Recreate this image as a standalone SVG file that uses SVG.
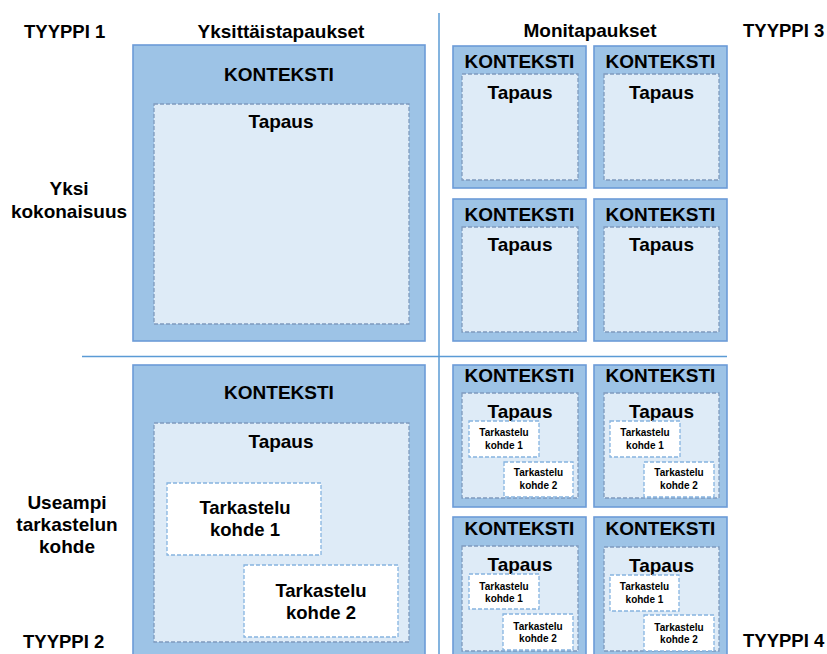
<svg xmlns="http://www.w3.org/2000/svg" width="827" height="654" viewBox="0 0 827 654">
<style>
text{font-family:"Liberation Sans",Arial,sans-serif;font-weight:bold;fill:#000;text-anchor:middle}
.hd{font-size:19px}
.ty{font-size:18.5px;text-anchor:start}
.kk{font-size:19px}
.tp{font-size:19px}
.tb{font-size:18.5px}
.ts{font-size:10px}
.ctx{fill:#9DC3E6;stroke:#6C9BD8;stroke-width:1.6}
.case{fill:#DEEBF7;stroke:#7F9BBE;stroke-width:1.3;stroke-dasharray:4 2}
.obj{fill:#FFFFFF;stroke:#86B4E0;stroke-width:1.3;stroke-dasharray:4 2}
.div{stroke:#5B9BD5;stroke-width:1.5;fill:none}
</style>
<g id="dividers">
<line class="div" x1="439" y1="13" x2="439" y2="654"/>
<line class="div" x1="82" y1="356.5" x2="727" y2="356.5"/>
</g>
<g id="labels">
<text class="ty" x="24" y="38">TYYPPI 1</text>
<text class="hd" x="281" y="38">Yksittäistapaukset</text>
<text class="hd" x="590" y="37">Monitapaukset</text>
<text class="ty" x="743" y="37">TYYPPI 3</text>
<text class="hd" x="69" y="195">Yksi</text>
<text class="hd" x="69" y="218">kokonaisuus</text>
<text class="hd" x="67" y="509">Useampi</text>
<text class="hd" x="67" y="531">tarkastelun</text>
<text class="hd" x="67" y="553">kohde</text>
<text class="ty" x="23" y="648">TYYPPI 2</text>
<text class="ty" x="743" y="647">TYYPPI 4</text>
</g>
<g id="type1">
<rect class="ctx" x="133" y="45" width="292" height="296"/>
<text class="kk" x="279" y="81">KONTEKSTI</text>
<rect class="case" x="154" y="104" width="255" height="220"/>
<text class="tp" x="281" y="128">Tapaus</text>
</g>
<g id="type2">
<rect class="ctx" x="133" y="365" width="292" height="300"/>
<text class="kk" x="279" y="399">KONTEKSTI</text>
<rect class="case" x="154" y="423" width="255" height="219"/>
<text class="tp" x="281" y="448">Tapaus</text>
<rect class="obj" x="167" y="483" width="154" height="72"/>
<text class="tb" x="245" y="514">Tarkastelu</text>
<text class="tb" x="245" y="536">kohde 1</text>
<rect class="obj" x="244" y="565" width="154" height="72"/>
<text class="tb" x="321" y="597">Tarkastelu</text>
<text class="tb" x="321" y="619">kohde 2</text>
</g>
<g id="type3-a">
<rect class="ctx" x="453" y="46" width="133" height="142"/>
<text class="kk" x="519.5" y="68">KONTEKSTI</text>
<rect class="case" x="462" y="74" width="116" height="106"/>
<text class="tp" x="520" y="99">Tapaus</text>
</g>
<g id="type3-b">
<rect class="ctx" x="594" y="46" width="133" height="142"/>
<text class="kk" x="660.5" y="68">KONTEKSTI</text>
<rect class="case" x="604" y="74" width="115" height="106"/>
<text class="tp" x="661.5" y="99">Tapaus</text>
</g>
<g id="type3-c">
<rect class="ctx" x="453" y="199" width="133" height="142"/>
<text class="kk" x="519.5" y="221">KONTEKSTI</text>
<rect class="case" x="462" y="227" width="116" height="105"/>
<text class="tp" x="520" y="251">Tapaus</text>
</g>
<g id="type3-d">
<rect class="ctx" x="594" y="199" width="133" height="142"/>
<text class="kk" x="660.5" y="221">KONTEKSTI</text>
<rect class="case" x="604" y="227" width="115" height="105"/>
<text class="tp" x="661.5" y="251">Tapaus</text>
</g>
<g id="type4-a">
<rect class="ctx" x="453" y="365" width="133" height="142"/>
<text class="kk" x="519.5" y="382">KONTEKSTI</text>
<rect class="case" x="462" y="393" width="116" height="105"/>
<text class="tp" x="520" y="418">Tapaus</text>
<rect class="obj" x="469" y="421" width="70" height="36"/>
<text class="ts" x="504" y="436">Tarkastelu</text>
<text class="ts" x="504" y="449">kohde 1</text>
<rect class="obj" x="504" y="462" width="69" height="35"/>
<text class="ts" x="538.5" y="476">Tarkastelu</text>
<text class="ts" x="538.5" y="489">kohde 2</text>
</g>
<g id="type4-b">
<rect class="ctx" x="594" y="365" width="133" height="142"/>
<text class="kk" x="660.5" y="382">KONTEKSTI</text>
<rect class="case" x="604" y="393" width="115" height="105"/>
<text class="tp" x="661.5" y="418">Tapaus</text>
<rect class="obj" x="610" y="421" width="70" height="36"/>
<text class="ts" x="645" y="436">Tarkastelu</text>
<text class="ts" x="645" y="449">kohde 1</text>
<rect class="obj" x="644" y="462" width="70" height="35"/>
<text class="ts" x="679" y="476">Tarkastelu</text>
<text class="ts" x="679" y="489">kohde 2</text>
</g>
<g id="type4-c">
<rect class="ctx" x="453" y="517" width="133" height="145"/>
<text class="kk" x="519.5" y="535">KONTEKSTI</text>
<rect class="case" x="462" y="546" width="116" height="105"/>
<text class="tp" x="520" y="571">Tapaus</text>
<rect class="obj" x="469" y="574" width="70" height="35"/>
<text class="ts" x="504" y="590">Tarkastelu</text>
<text class="ts" x="504" y="602">kohde 1</text>
<rect class="obj" x="503" y="614" width="70" height="36"/>
<text class="ts" x="538" y="630">Tarkastelu</text>
<text class="ts" x="538" y="642">kohde 2</text>
</g>
<g id="type4-d">
<rect class="ctx" x="594" y="517" width="133" height="145"/>
<text class="kk" x="660.5" y="535">KONTEKSTI</text>
<rect class="case" x="604" y="547" width="115" height="104"/>
<text class="tp" x="661.5" y="572">Tapaus</text>
<rect class="obj" x="610" y="575" width="69" height="36"/>
<text class="ts" x="644.5" y="590">Tarkastelu</text>
<text class="ts" x="644.5" y="603">kohde 1</text>
<rect class="obj" x="644" y="615" width="70" height="36"/>
<text class="ts" x="679" y="631">Tarkastelu</text>
<text class="ts" x="679" y="643">kohde 2</text>
</g>
</svg>
